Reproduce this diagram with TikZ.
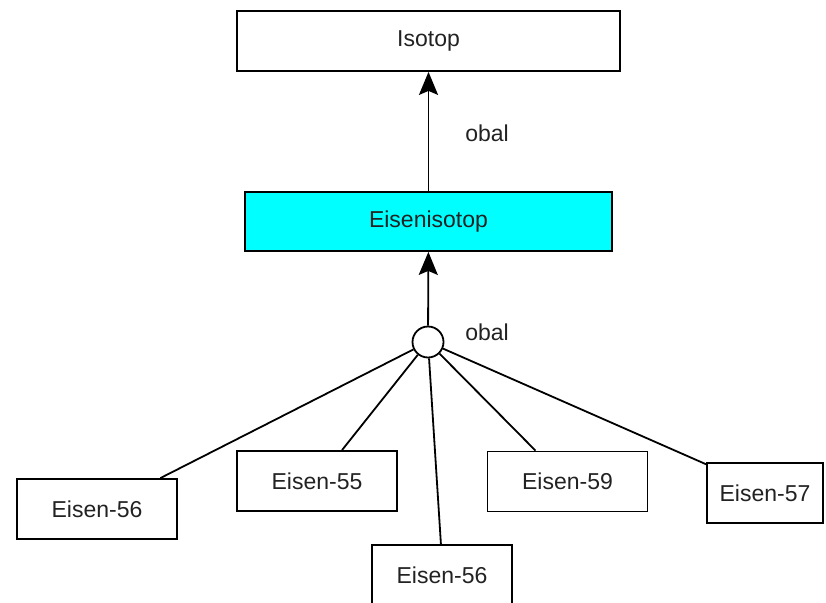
\documentclass[tikz,border=0pt]{standalone}
\usepackage{fontspec}
\setmainfont{Liberation Sans}
\usetikzlibrary{arrows.meta}
\definecolor{aqua}{RGB}{0,255,255}
\definecolor{ink}{RGB}{34,34,34}

\begin{document}
\begin{tikzpicture}[x=1pt, y=-1pt,
  box/.style={draw, line width=1.8pt, minimum width=160pt, minimum height=60pt,
    inner sep=0pt, text=ink, font=\fontsize{23}{26}\selectfont},
  lbl/.style={text=ink, font=\fontsize{23}{26}\selectfont},
  tip/.style={-{Stealth[length=23pt, width=19pt, inset=4pt]}, line width=1.8pt}]
  \useasboundingbox (0,0) rectangle (826,602);
  \clip (0,0) rectangle (826,602);
  \node[box, minimum width=383pt] at (428.5,41) (iso) {Isotop};
  \node[box, minimum width=367pt, minimum height=59pt, fill=aqua] at (428.5,221.5) (eiso) {Eisenisotop};
  \node[draw, circle, line width=1.8pt, minimum size=31pt, inner sep=0pt] at (428,342) (o) {};
  \node[lbl] at (487,133) (obal1) {obal};
  \node[lbl] at (487,332) (obal2) {obal};
  \node[box] at (97,509) (e56a) {Eisen-56};
  \node[box] at (317,481) (e55) {Eisen-55};
  \node[box, minimum width=140pt] at (442,575) (e56b) {Eisen-56};
  \node[box] at (567.5,481.5) (e59) {Eisen-59};
  \node[box, minimum width=116pt] at (765,493) (e57) {Eisen-57};
  \draw [tip] (eiso) -- (iso);
  \draw [tip] (o) -- (eiso);
  %\draw (o) -- (e56b.north);
  \draw [line width=1.8pt] (o) -- (e56a.26.6);
  \draw [line width=1.8pt] (o) -- (e55.51.3);
  \draw [line width=1.8pt] (o) -- (e56b.92);
  \draw [line width=1.8pt] (o) -- (e59.136.9);
  \draw [line width=1.8pt] (o) -- (e57.154.6);
\end{tikzpicture}
\end{document}
